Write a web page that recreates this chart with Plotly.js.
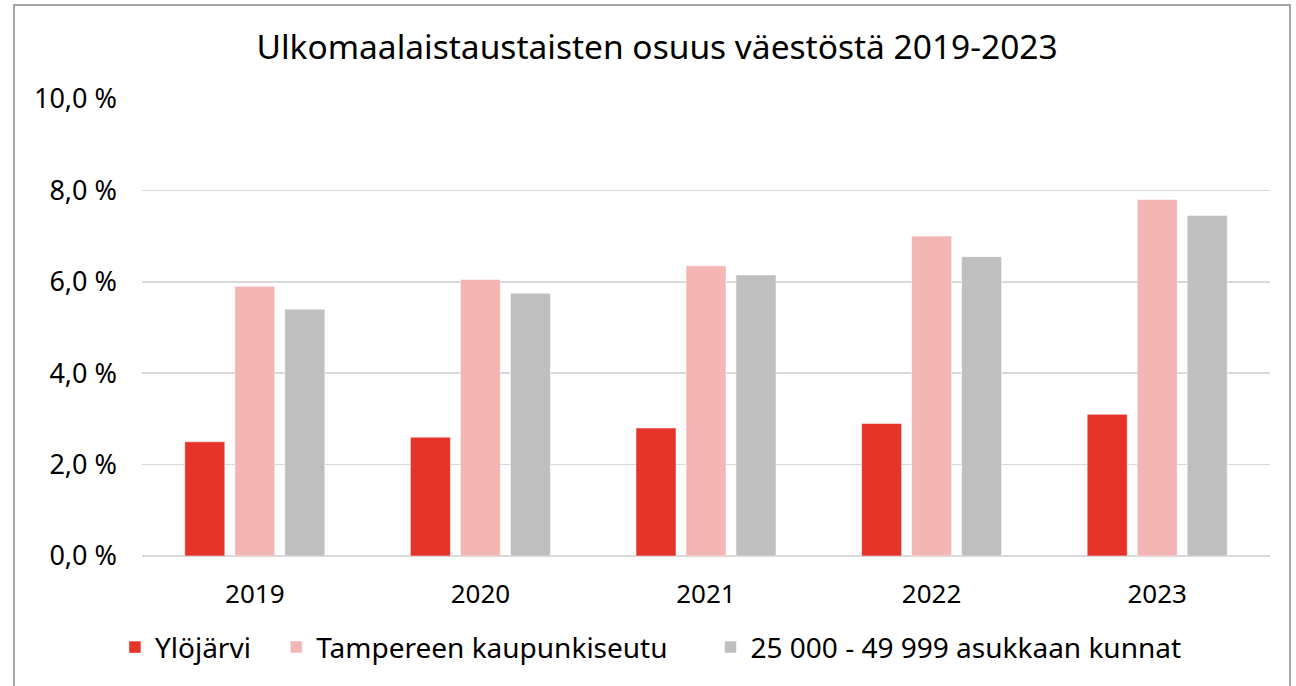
<!DOCTYPE html>
<html>
<head>
<meta charset="utf-8">
<script src="https://cdn.plot.ly/plotly-3.0.1.min.js"></script>
<style>
  html, body { margin: 0; padding: 0; background: #ffffff; }
  #chart { width: 1296px; height: 686px; }
  #frame { position: absolute; left: 13px; top: 4px; width: 1274px; height: 700px;
           border-left: 2px solid #a6a6a6; border-top: 2px solid #a6a6a6; border-right: 2px solid #a6a6a6;
           pointer-events: none; }
</style>
</head>
<body>
<div id="chart"></div>
<div id="frame"></div>
<script>
const years = ['2019', '2020', '2021', '2022', '2023'];
const ylojarvi = [2.5, 2.6, 2.8, 2.9, 3.1];
const tampereenSeutu = [5.9, 6.05, 6.35, 7.0, 7.8];
const kunnat = [5.4, 5.75, 6.15, 6.55, 7.45];
const seriesNames = ['Ylöjärvi', 'Tampereen kaupunkiseutu', '25 000 - 49 999 asukkaan kunnat'];
const seriesColors = ['#e5332a', '#f4b6b4', '#bfbfbf'];
const seriesValues = [ylojarvi, tampereenSeutu, kunnat];
const legendIds = ['legend', 'legend2', 'legend3'];
const legendX = [-0.024, 0.119, 0.504];

const FONT = 'Noto Sans, Open Sans, sans-serif';

const traces = seriesValues.map((vals, i) => ({
  type: 'bar',
  name: seriesNames[i],
  x: years,
  y: vals,
  legend: legendIds[i],
  marker: { color: seriesColors[i], line: { color: 'rgba(255,255,255,0.5)', width: 1 } },
  hoverinfo: 'x+y+name'
}));

const layout = {
  width: 1296,
  height: 686,
  paper_bgcolor: '#ffffff',
  plot_bgcolor: '#ffffff',
  margin: { l: 142, r: 26, t: 99, b: 130 },
  barmode: 'group',
  bargap: 0.335,
  bargroupgap: 0.2,
  separators: ', ',
  title: {
    text: 'Ulkomaalaistaustaisten osuus väestöstä 2019-2023',
    font: { family: FONT, size: 33.5, color: '#000000' },
    x: 0.507, xanchor: 'center', xref: 'container',
    y: 0.931, yanchor: 'middle', yref: 'container'
  },
  xaxis: {
    type: 'category',
    tickfont: { family: FONT, size: 26, color: '#000000' },
    showgrid: false,
    showline: false,
    ticks: '',
    ticklabelstandoff: 20
  },
  yaxis: {
    range: [0, 10],
    dtick: 2,
    tick0: 0,
    tickformat: '.1f',
    ticksuffix: ' %',
    tickfont: { family: FONT, size: 27, color: '#000000' },
    showgrid: true,
    gridcolor: '#d9d9d9',
    gridwidth: 1.5,
    zeroline: true,
    zerolinecolor: '#d9d9d9',
    zerolinewidth: 1.5,
    showline: false,
    ticks: '',
    ticklabelstandoff: 24,
    fixedrange: true
  },
  showlegend: true
};

legendIds.forEach((id, i) => {
  layout[id] = {
    orientation: 'h',
    x: legendX[i], xanchor: 'left',
    y: -0.2, yanchor: 'middle',
    font: { family: FONT, size: 28, color: '#000000' },
    itemwidth: 30,
    bgcolor: 'rgba(0,0,0,0)'
  };
});

Plotly.newPlot('chart', traces, layout, { displayModeBar: false, staticPlot: true });
</script>
</body>
</html>
